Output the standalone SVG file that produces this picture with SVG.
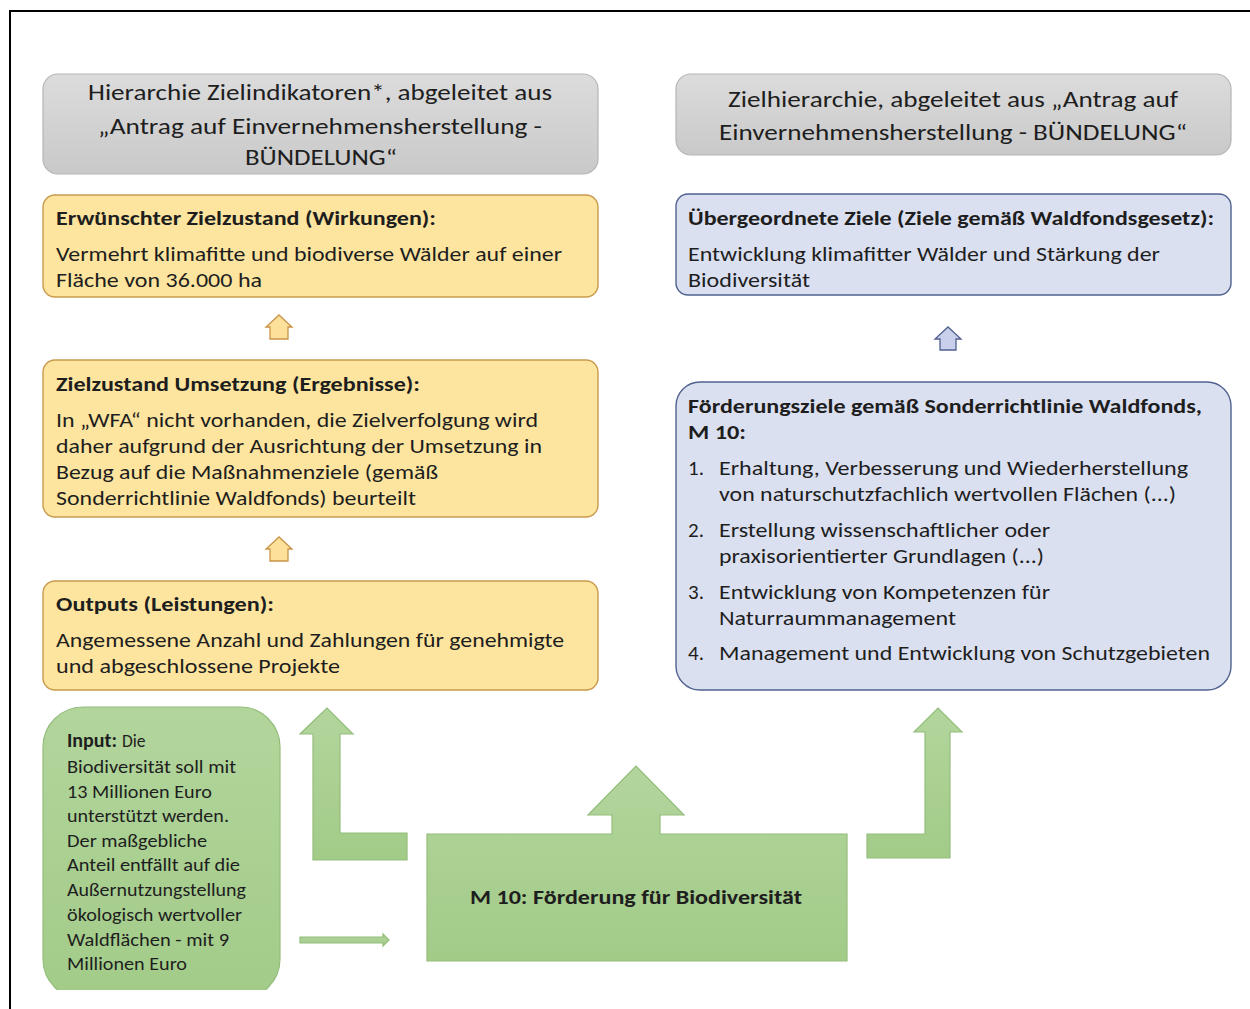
<svg xmlns="http://www.w3.org/2000/svg" width="1250" height="1009" viewBox="0 0 1250 1009">
<style>
text{font-family:Carlito,Lato,"Noto Sans","Liberation Sans",sans-serif;fill:#1e1e1e}
.hd{font-size:23px}
.b{font-size:20px;font-weight:bold}
.t{font-size:21px}
.s{font-size:17.5px}
.gray{fill:url(#gGray);stroke:#b5b5b5;stroke-width:1.2}
.yel{fill:#fde59f;stroke:#c99a4c;stroke-width:1.4}
.blu{fill:#dbe0f1;stroke:#50628f;stroke-width:1.4}
.grn{fill:url(#gGreen);stroke:#93bd7b;stroke-width:1.2}
.ya{fill:#fde09a;stroke:#c9944a;stroke-width:1.3}
.ba{fill:#c8d0ec;stroke:#52608e;stroke-width:1.3}
</style>
<defs>
<linearGradient id="gGray" x1="0" y1="0" x2="0" y2="1"><stop offset="0" stop-color="#dcdcdc"/><stop offset="1" stop-color="#c9c9c9"/></linearGradient>
<linearGradient id="gGreen" x1="0" y1="0" x2="0" y2="1"><stop offset="0" stop-color="#b2d59c"/><stop offset="1" stop-color="#a2cb88"/></linearGradient>
<clipPath id="clipIn"><rect x="0" y="0" width="1250" height="990"/></clipPath>
</defs>
<rect width="1250" height="1009" fill="#fff"/>
<path d="M10 1009 V11 H1250" fill="none" stroke="#000" stroke-width="2"/>

<g id="header-left">
<rect class="gray" x="43" y="74" width="555" height="100" rx="15"/>
<text class="hd" x="320" y="100" text-anchor="middle" textLength="464" lengthAdjust="spacingAndGlyphs">Hierarchie Zielindikatoren*, abgeleitet aus</text>
<text class="hd" x="320" y="134" text-anchor="middle" textLength="444" lengthAdjust="spacingAndGlyphs">„Antrag auf Einvernehmensherstellung  -</text>
<text class="hd" x="321" y="165" text-anchor="middle" textLength="152" lengthAdjust="spacingAndGlyphs">BÜNDELUNG“</text>
</g>

<g id="header-right">
<rect class="gray" x="676" y="74" width="555" height="81" rx="15"/>
<text class="hd" x="953" y="107" text-anchor="middle" textLength="450" lengthAdjust="spacingAndGlyphs">Zielhierarchie, abgeleitet aus „Antrag auf</text>
<text class="hd" x="953" y="140" text-anchor="middle" textLength="468" lengthAdjust="spacingAndGlyphs">Einvernehmensherstellung  - BÜNDELUNG“</text>
</g>

<g id="wirkungen">
<rect class="yel" x="43" y="195" width="555" height="102" rx="12"/>
<text class="b" x="56" y="225" textLength="380" lengthAdjust="spacingAndGlyphs">Erwünschter Zielzustand (Wirkungen):</text>
<text class="t" x="56" y="261" textLength="506" lengthAdjust="spacingAndGlyphs">Vermehrt klimafitte und biodiverse Wälder auf einer</text>
<text class="t" x="56" y="287" textLength="206" lengthAdjust="spacingAndGlyphs">Fläche von 36.000 ha</text>
</g>

<g id="ergebnisse">
<rect class="yel" x="43" y="360" width="555" height="157" rx="12"/>
<text class="b" x="56" y="391" textLength="364" lengthAdjust="spacingAndGlyphs">Zielzustand Umsetzung (Ergebnisse):</text>
<text class="t" x="56" y="427" textLength="482" lengthAdjust="spacingAndGlyphs">In „WFA“ nicht vorhanden, die Zielverfolgung wird</text>
<text class="t" x="56" y="453" textLength="486" lengthAdjust="spacingAndGlyphs">daher aufgrund der Ausrichtung der Umsetzung in</text>
<text class="t" x="56" y="479" textLength="382" lengthAdjust="spacingAndGlyphs">Bezug auf die Maßnahmenziele (gemäß</text>
<text class="t" x="56" y="505" textLength="360" lengthAdjust="spacingAndGlyphs">Sonderrichtlinie Waldfonds) beurteilt</text>
</g>

<g id="outputs">
<rect class="yel" x="43" y="581" width="555" height="109" rx="12"/>
<text class="b" x="56" y="611" textLength="218" lengthAdjust="spacingAndGlyphs">Outputs (Leistungen):</text>
<text class="t" x="56" y="647" textLength="508" lengthAdjust="spacingAndGlyphs">Angemessene Anzahl und Zahlungen für genehmigte</text>
<text class="t" x="56" y="673" textLength="284" lengthAdjust="spacingAndGlyphs">und abgeschlossene Projekte</text>
</g>

<g id="uebergeordnet">
<rect class="blu" x="676" y="194" width="555" height="101" rx="12"/>
<text class="b" x="688" y="225" textLength="526" lengthAdjust="spacingAndGlyphs">Übergeordnete Ziele (Ziele gemäß Waldfondsgesetz):</text>
<text class="t" x="688" y="261" textLength="472" lengthAdjust="spacingAndGlyphs">Entwicklung klimafitter Wälder und Stärkung der</text>
<text class="t" x="688" y="287" textLength="122" lengthAdjust="spacingAndGlyphs">Biodiversität</text>
</g>

<g id="foerderungsziele">
<rect class="blu" x="676" y="382" width="555" height="308" rx="24"/>
<text class="b" x="688" y="413" textLength="514" lengthAdjust="spacingAndGlyphs">Förderungsziele gemäß Sonderrichtlinie Waldfonds,</text>
<text class="b" x="688" y="439" textLength="58" lengthAdjust="spacingAndGlyphs">M 10:</text>
<text class="t" x="688" y="475">1.</text>
<text class="t" x="719" y="475" textLength="469" lengthAdjust="spacingAndGlyphs">Erhaltung, Verbesserung und Wiederherstellung</text>
<text class="t" x="719" y="501" textLength="457" lengthAdjust="spacingAndGlyphs">von naturschutzfachlich wertvollen Flächen (...)</text>
<text class="t" x="688" y="537">2.</text>
<text class="t" x="719" y="537" textLength="331" lengthAdjust="spacingAndGlyphs">Erstellung wissenschaftlicher oder</text>
<text class="t" x="719" y="563" textLength="325" lengthAdjust="spacingAndGlyphs">praxisorientierter Grundlagen (...)</text>
<text class="t" x="688" y="599">3.</text>
<text class="t" x="719" y="599" textLength="331" lengthAdjust="spacingAndGlyphs">Entwicklung von Kompetenzen für</text>
<text class="t" x="719" y="625" textLength="237" lengthAdjust="spacingAndGlyphs">Naturraummanagement</text>
<text class="t" x="688" y="660">4.</text>
<text class="t" x="719" y="660" textLength="491" lengthAdjust="spacingAndGlyphs">Management und Entwicklung von Schutzgebieten</text>
</g>

<g id="input">
<g clip-path="url(#clipIn)">
<rect class="grn" x="43" y="707" width="237" height="292" rx="40"/>
</g>
<text x="67" y="747"><tspan style="font-size:20px;font-weight:bold">Input:</tspan><tspan class="s" dx="5">Die</tspan></text>
<text class="s" x="67" y="773" textLength="169" lengthAdjust="spacingAndGlyphs">Biodiversität soll mit</text>
<text class="s" x="67" y="798" textLength="145" lengthAdjust="spacingAndGlyphs">13 Millionen Euro</text>
<text class="s" x="67" y="822" textLength="162" lengthAdjust="spacingAndGlyphs">unterstützt  werden.</text>
<text class="s" x="67" y="847" textLength="140" lengthAdjust="spacingAndGlyphs">Der maßgebliche</text>
<text class="s" x="67" y="871" textLength="173" lengthAdjust="spacingAndGlyphs">Anteil entfällt auf die</text>
<text class="s" x="67" y="896" textLength="179" lengthAdjust="spacingAndGlyphs">Außernutzungstellung</text>
<text class="s" x="67" y="921" textLength="175" lengthAdjust="spacingAndGlyphs">ökologisch wertvoller</text>
<text class="s" x="67" y="946" textLength="162" lengthAdjust="spacingAndGlyphs">Waldflächen - mit 9</text>
<text class="s" x="67" y="970" textLength="120" lengthAdjust="spacingAndGlyphs">Millionen Euro</text>
</g>

<g id="m10">
<path class="grn" d="M427 834 H612 V815 H588 L636 766 L684 815 H660 V834 H847 V961 H427 Z"/>
<text x="636" y="904" text-anchor="middle" style="font-size:21px;font-weight:bold" textLength="332" lengthAdjust="spacingAndGlyphs">M 10: Förderung für Biodiversität</text>
</g>

<g id="connectors">
<path class="ya" d="M270 339 V327 H266 L279 315 L292 327 H288 V339 Z"/>
<path class="ya" d="M270 561 V549 H266 L279 537 L292 549 H288 V561 Z"/>
<path class="ba" d="M940 350 V339 H935 L948 327 L961 339 H956 V350 Z"/>
<path class="grn" d="M407 833 V860 H313 V734 H300 L327 708 L353 734 H340 V833 Z"/>
<path class="grn" d="M867 834 H925 V732 H914 L938 708 L962 732 H950 V858 H867 Z"/>
<path class="grn" d="M300 937 H383 V934 L389 940 L383 946 V943 H300 Z"/>
</g>
</svg>
